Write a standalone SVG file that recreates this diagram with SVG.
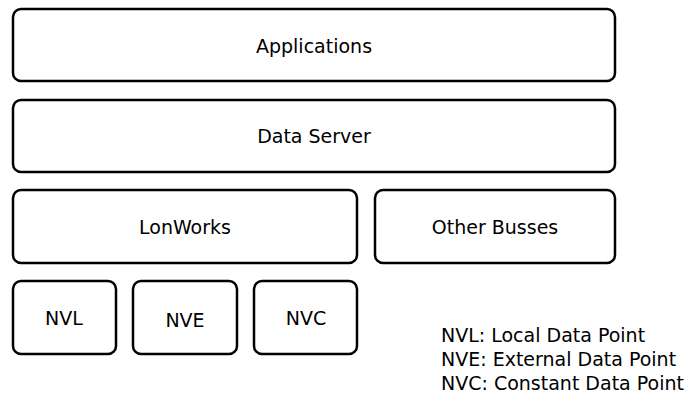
<svg xmlns="http://www.w3.org/2000/svg" width="686" height="394" viewBox="0 0 686 394">
<style>
.box{fill:#fff;stroke:#000;stroke-width:2.5}
.t{font-family:"DejaVu Sans",sans-serif;font-size:19px;fill:#000;text-anchor:middle;dominant-baseline:central}
.l{font-family:"DejaVu Sans",sans-serif;font-size:19px;fill:#000}
</style>
<rect width="686" height="394" fill="#fff"/>
<g id="applications"><rect class="box" x="13" y="9" width="602" height="72" rx="8"/><text class="t" x="314" y="46">Applications</text></g>
<g id="dataserver"><rect class="box" x="13" y="100" width="602" height="72" rx="8"/><text class="t" x="314" y="136">Data Server</text></g>
<g id="lonworks"><rect class="box" x="13" y="190" width="344" height="73" rx="8"/><text class="t" x="185" y="227">LonWorks</text></g>
<g id="otherbusses"><rect class="box" x="375" y="190" width="240" height="73" rx="8"/><text class="t" x="495" y="227">Other Busses</text></g>
<g id="nvl"><rect class="box" x="13" y="281" width="103" height="73" rx="8"/><text class="t" x="64" y="318">NVL</text></g>
<g id="nve"><rect class="box" x="133" y="281" width="104" height="73" rx="8"/><text class="t" x="185" y="320">NVE</text></g>
<g id="nvc"><rect class="box" x="254" y="281" width="103" height="73" rx="8"/><text class="t" x="306" y="318">NVC</text></g>
<g id="connectors"></g>
<g id="legend">
<text class="l" x="441" y="342">NVL: Local Data Point</text>
<text class="l" x="441" y="366">NVE: External Data Point</text>
<text class="l" x="441" y="390">NVC: Constant Data Point</text>
</g>
</svg>
